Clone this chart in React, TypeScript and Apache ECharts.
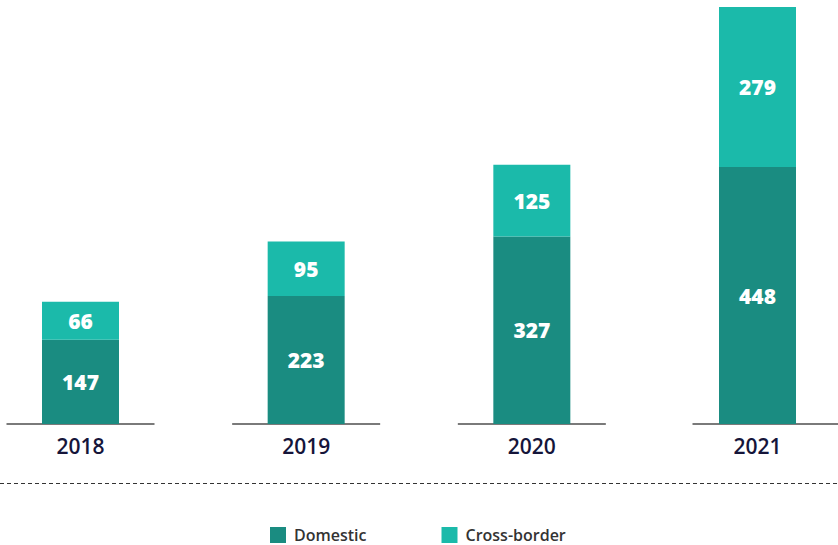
import React, { useEffect, useRef } from "react";
import * as echarts from "echarts";

const categories = ["2018", "2019", "2020", "2021"];
const domestic = [147, 223, 327, 448];
const crossBorder = [66, 95, 125, 279];
const seriesNames = ["Domestic", "Cross-border"];

const DOMESTIC_COLOR = "#1a8c81";
const CROSS_COLOR = "#1bbaaa";

export default function App() {
  const ref = useRef<HTMLDivElement>(null);
  useEffect(() => {
    if (!ref.current) return;
    const chart = echarts.init(ref.current, undefined, { renderer: "svg" });
    const labelStyle = {
      show: true,
      position: "inside" as const,
      color: "#ffffff",
      fontFamily: "Open Sans",
      fontWeight: 800,
      fontSize: 21,
    };
    chart.setOption({
      animation: false,
      grid: { left: 80.5, right: 80.5, top: 7, bottom: 121, containLabel: false },
      legend: {
        data: seriesNames,
        left: 265,
        top: 522,
        icon: "rect",
        itemWidth: 16,
        itemHeight: 16,
        itemGap: 75,
        textStyle: {
          color: "#333333",
          fontFamily: "Open Sans",
          fontWeight: 600,
          fontSize: 16,
          padding: [0, 0, 0, 3],
        },
      },
      xAxis: {
        type: "category",
        data: categories,
        boundaryGap: false,
        axisLine: { show: false },
        axisTick: { show: false },
        axisLabel: {
          color: "#15153a",
          fontFamily: "Open Sans",
          fontWeight: 600,
          fontSize: 21,
          margin: 11,
        },
      },
      yAxis: { type: "value", min: 0, max: 727, show: false, splitLine: { show: false } },
      graphic: [
        {
          type: "line",
          shape: { x1: 0, y1: 483.5, x2: 838, y2: 483.5 },
          style: { stroke: "#333333", lineWidth: 1, lineDash: [4, 3] },
        },
      ],
      series: [
        {
          type: "custom",
          z: 1,
          silent: true,
          data: categories.map((_, i) => [i, 0]),
          renderItem: (params: any, api: any) => {
            const p = api.coord([api.value(0), 0]);
            const isLast = params.dataIndex === categories.length - 1;
            const x1 = isLast ? p[0] - 65 : p[0] - 74;
            const x2 = isLast ? 838 : p[0] + 74;
            return {
              type: "line",
              shape: { x1, y1: p[1], x2, y2: p[1] },
              style: { stroke: "#7a7a7a", lineWidth: 2 },
            };
          },
        },
        {
          name: seriesNames[0],
          type: "bar",
          stack: "total",
          z: 2,
          barWidth: 77,
          data: domestic,
          itemStyle: { color: DOMESTIC_COLOR },
          label: labelStyle,
        },
        {
          name: seriesNames[1],
          type: "bar",
          stack: "total",
          z: 2,
          barWidth: 77,
          data: crossBorder,
          itemStyle: { color: CROSS_COLOR },
          label: labelStyle,
        },
      ],
    });
    return () => chart.dispose();
  }, []);
  return (
    <div
      ref={ref}
      style={{ position: "absolute", left: 0, top: 0, width: 838, height: 545, background: "#ffffff" }}
    />
  );
}
